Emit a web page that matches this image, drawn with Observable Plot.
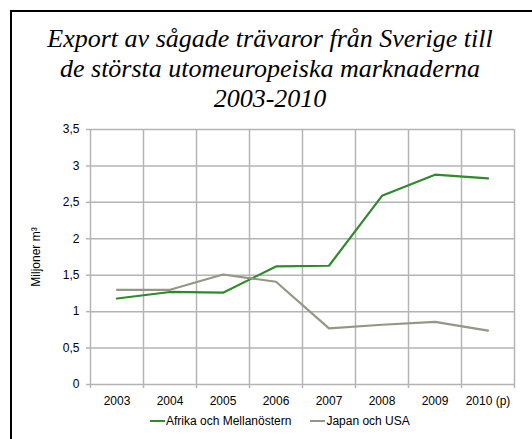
<!DOCTYPE html>
<html><head><meta charset="utf-8">
<script src="https://cdn.jsdelivr.net/npm/d3@7"></script>
<script src="https://cdn.jsdelivr.net/npm/@observablehq/plot@0.6"></script>
<style>
html,body{margin:0;padding:0;background:#fff;overflow:hidden;}
#title{position:absolute;left:11px;width:518px;top:24px;text-align:center;font-family:"Liberation Serif","Times New Roman",serif;font-style:italic;font-size:26px;line-height:30px;color:#000;}
#chart{position:absolute;left:0;top:0;width:532px;height:439px;overflow:hidden;}
#chart svg{display:block;}
#legend{position:absolute;left:150px;top:413px;height:18px;white-space:nowrap;font-family:"Liberation Sans",Arial,sans-serif;font-size:12px;line-height:16px;color:#000;}
.sw{display:inline-block;width:15px;height:2px;vertical-align:middle;margin-right:1px;position:relative;top:-1px;}
.item{margin-right:19px;}
</style></head>
<body>
<div id="chart"></div>
<div id="title">Export av sågade trävaror från Sverige till<br>de största utomeuropeiska marknaderna<br>2003-2010</div>
<div id="legend"></div>
<script>
const years = ["2003","2004","2005","2006","2007","2008","2009","2010 (p)"];
const afrikaMellanostern = [1.18,1.27,1.26,1.62,1.63,2.59,2.88,2.83];
const japanUSA = [1.30,1.30,1.51,1.41,0.77,0.82,0.86,0.74];
const seriesNames = ["Afrika och Mellanöstern","Japan och USA"];
const seriesColors = ["#2e8a2a","#959684"];
const yTicks = [0,0.5,1,1.5,2,2.5,3,3.5];
const yLabel = "Miljoner m³";

const rows = [];
years.forEach((y,i)=>{
  rows.push({i, series: seriesNames[0], v: afrikaMellanostern[i]});
  rows.push({i, series: seriesNames[1], v: japanUSA[i]});
});
const boundaries = years.map((_,i)=>i-0.5).concat([years.length-0.5]);
const centers = years.map((_,i)=>i);
const fmt = d => String(d).replace(".", ",");
const grid = "#b4b4b4";

const chart = Plot.plot({
  width: 532, height: 439,
  marginLeft: 90, marginRight: 18, marginTop: 129, marginBottom: 55,
  style: {fontFamily: '"Liberation Sans", Arial, sans-serif', fontSize: "12px", color: "#000", background: "transparent"},
  x: {type: "linear", domain: [-0.5, years.length-0.5]},
  y: {domain: [0, 3.5]},
  color: {domain: seriesNames, range: seriesColors},
  marks: [
    Plot.ruleY(yTicks, {stroke: grid, strokeWidth: 1.5}),
    Plot.ruleX(boundaries, {stroke: grid, strokeWidth: 1.5}),
    Plot.axisY({ticks: yTicks, tickFormat: fmt, tickSize: 4, tickPadding: 7, stroke: grid, strokeWidth: 1.5, label: null, fill: "#000", fontSize: 12}),
    Plot.axisX({ticks: boundaries, tickFormat: () => "", tickSize: 4, stroke: grid, strokeWidth: 1.5, label: null}),
    Plot.axisX({ticks: centers, tickFormat: i => years[i], tickSize: 0, tickPadding: 12, label: null, fill: "#000", fontSize: 12}),
    Plot.text([yLabel], {frameAnchor: "left", dx: -54, rotate: -90, textAnchor: "middle", text: d => d, fill: "#000", fontSize: 12}),
    Plot.line(rows, {x: "i", y: "v", z: "series", stroke: "series", strokeWidth: 2.2, curve: "linear"})
  ]
});
// outer frame (decoration): top and left edges only, the rest lies outside the picture
d3.select(chart).append("path")
  .attr("d", "M11,439V11H532")
  .attr("fill", "none").attr("stroke", "#000").attr("stroke-width", 2);
document.getElementById("chart").appendChild(chart);

document.getElementById("legend").innerHTML = seriesNames.map((n,k)=>
  `<span class="item"><span class="sw" style="background:${seriesColors[k]}"></span>${n}</span>`).join("");
</script>
</body></html>
